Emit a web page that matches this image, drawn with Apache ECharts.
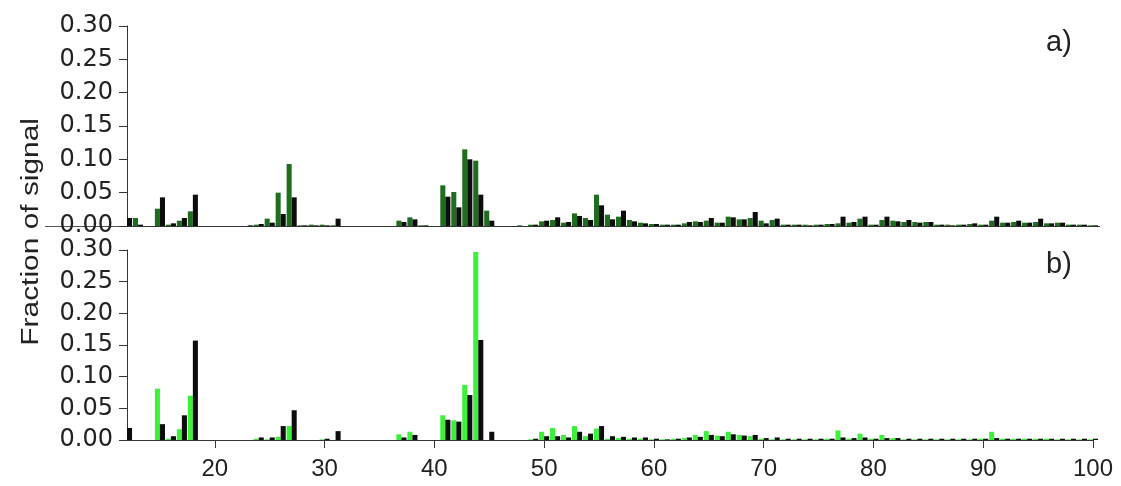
<!DOCTYPE html>
<html>
<head>
<meta charset="utf-8">
<script src="https://cdn.jsdelivr.net/npm/echarts@6/dist/echarts.min.js"></script>
<style>
html,body{margin:0;padding:0;background:#fff;}
#chart{width:1121px;height:486px;}
</style>
</head>
<body>
<div id="chart"></div>
<script>
// m/z values (one pair of bars per m/z)
const mz = [12,13,14,15,16,17,18,19,20,21,22,23,24,25,26,27,28,29,30,31,32,33,34,35,36,37,38,39,40,41,42,43,44,45,46,47,48,49,50,51,52,53,54,55,56,57,58,59,60,61,62,63,64,65,66,67,68,69,70,71,72,73,74,75,76,77,78,79,80,81,82,83,84,85,86,87,88,89,90,91,92,93,94,95,96,97,98,99,100];

// panel a) values
const topGreen = [0,0.012,0,0.026,0.002,0.008,0.022,0,0,0,0,0,0.002,0.011,0.05,0.093,0.001,0.002,0.002,0.001,0,0,0,0,0,0.008,0.013,0.001,0,0.061,0.051,0.115,0.098,0.023,0,0,0.001,0.002,0.007,0.009,0.005,0.019,0.012,0.047,0.017,0.014,0.009,0.005,0.003,0.002,0.002,0.004,0.007,0.008,0.005,0.014,0.01,0.012,0.008,0.009,0.002,0.002,0.002,0.002,0.003,0.004,0.005,0.011,0.002,0.009,0.008,0.006,0.006,0.006,0.002,0.002,0.002,0.003,0.002,0.008,0.005,0.006,0.005,0.006,0.004,0.005,0.002,0.002,0.001];
const topBlack = [0.012,0.002,0,0.043,0.004,0.012,0.047,0,0,0,0,0.001,0.003,0.005,0.018,0.043,0.001,0.001,0.001,0.011,0,0,0,0,0,0.006,0.01,0.001,0,0.044,0.028,0.1,0.047,0.008,0,0,0,0.002,0.008,0.013,0.006,0.015,0.009,0.031,0.01,0.023,0.007,0.004,0.003,0.002,0.002,0.006,0.006,0.012,0.005,0.013,0.01,0.021,0.004,0.011,0.002,0.002,0.001,0.002,0.003,0.014,0.006,0.014,0.002,0.014,0.007,0.009,0.005,0.006,0.002,0.001,0.002,0.004,0.002,0.014,0.005,0.008,0.005,0.011,0.004,0.005,0.002,0.002,0.001];

// panel b) values
const botGreen = [0,0,0,0.081,0.002,0.017,0.07,0,0,0,0,0,0.002,0.001,0.005,0.022,0,0,0.001,0,0,0,0,0,0,0.009,0.013,0,0,0.039,0.031,0.087,0.297,0,0,0,0,0.001,0.013,0.019,0.008,0.022,0.006,0.018,0.002,0.003,0.002,0.002,0.001,0.001,0.002,0.003,0.008,0.014,0.007,0.013,0.008,0.006,0.002,0.001,0.001,0.001,0.001,0.001,0.002,0.015,0.002,0.01,0.002,0.008,0.003,0.001,0.001,0.001,0.001,0.001,0.001,0.001,0.002,0.013,0.002,0.002,0.002,0.002,0.002,0.001,0.001,0.001,0.001];
const botBlack = [0.019,0,0,0.025,0.006,0.039,0.157,0,0,0,0,0,0.004,0.004,0.022,0.047,0,0,0.002,0.014,0,0,0,0,0,0.004,0.008,0,0,0.032,0.029,0.071,0.158,0.013,0,0,0,0.002,0.006,0.006,0.004,0.013,0.01,0.022,0.006,0.005,0.004,0.004,0.002,0.001,0.002,0.004,0.005,0.008,0.006,0.009,0.007,0.008,0.003,0.004,0.002,0.002,0.002,0.002,0.002,0.004,0.003,0.004,0.002,0.003,0.003,0.002,0.002,0.002,0.002,0.002,0.002,0.002,0.002,0.003,0.002,0.002,0.002,0.002,0.002,0.002,0.002,0.002,0.002];

const xTicks = [20,30,40,50,60,70,80,90,100];
const yLabel = 'Fraction of signal';
const panelLabels = ['a)', 'b)'];

const pair = (xs, ys) => xs.map((x, i) => [x, ys[i]]);
const FONT = 'Liberation Sans';
const TXT = '#222';

function yAxis(gi) {
  return {
    type: 'value', gridIndex: gi, min: 0, max: 0.3, interval: 0.05,
    axisLine: {show: true, lineStyle: {color: '#333', width: 1}},
    axisTick: {show: true, inside: false, length: 8, lineStyle: {color: '#333'}},
    axisLabel: {formatter: v => v.toFixed(2), fontSize: 24, fontFamily: 'DejaVu Sans', color: TXT, margin: 14},
    splitLine: {show: false}
  };
}

function xAxis(gi, showLabels) {
  return {
    type: 'value', gridIndex: gi, min: 12, max: 100,
    axisLine: {show: true, onZero: false, lineStyle: {color: '#333', width: 1}},
    axisTick: {show: showLabels, length: 8, customValues: xTicks, lineStyle: {color: '#333'}},
    axisLabel: {show: showLabels, customValues: xTicks, fontSize: 24, fontFamily: FONT, color: TXT, margin: 17},
    splitLine: {show: false}
  };
}

function bars(gi, data, color) {
  return {
    type: 'bar', xAxisIndex: gi, yAxisIndex: gi, data: data,
    barGap: '0%', barCategoryGap: '8%',
    itemStyle: {color: color},
    emphasis: {disabled: true}, animation: false
  };
}

const chart = echarts.init(document.getElementById('chart'), null, {renderer: 'canvas'});
chart.setOption({
  backgroundColor: '#fff',
  animation: false,
  grid: [
    {left: 127, right: 28, top: 26, height: 200},
    {left: 127, right: 28, top: 250, height: 190}
  ],
  xAxis: [xAxis(0, false), xAxis(1, true)],
  yAxis: [yAxis(0), yAxis(1)],
  series: [
    bars(0, pair(mz, topGreen), '#1f6e1f'),
    bars(0, pair(mz, topBlack), '#0d0d0d'),
    bars(1, pair(mz, botGreen), '#3cf03c'),
    bars(1, pair(mz, botBlack), '#0d0d0d')
  ],
  graphic: [
    {type: 'text', left: 20, top: 118, rotation: Math.PI / 2, scaleX: 1.3,
     style: {text: yLabel, font: '23px ' + FONT, fill: TXT}},
    {type: 'text', left: 1046, top: 28, style: {text: panelLabels[0], font: '29px ' + FONT, fill: TXT}},
    {type: 'text', left: 1046, top: 250, style: {text: panelLabels[1], font: '29px ' + FONT, fill: TXT}},
    {type: 'line', shape: {x1: 45, y1: 226.5, x2: 127, y2: 226.5}, style: {stroke: '#555', lineWidth: 1}},
    {type: 'line', shape: {x1: 1093, y1: 226.5, x2: 1100, y2: 226.5}, style: {stroke: '#333', lineWidth: 1}}
  ]
});
</script>
</body>
</html>
